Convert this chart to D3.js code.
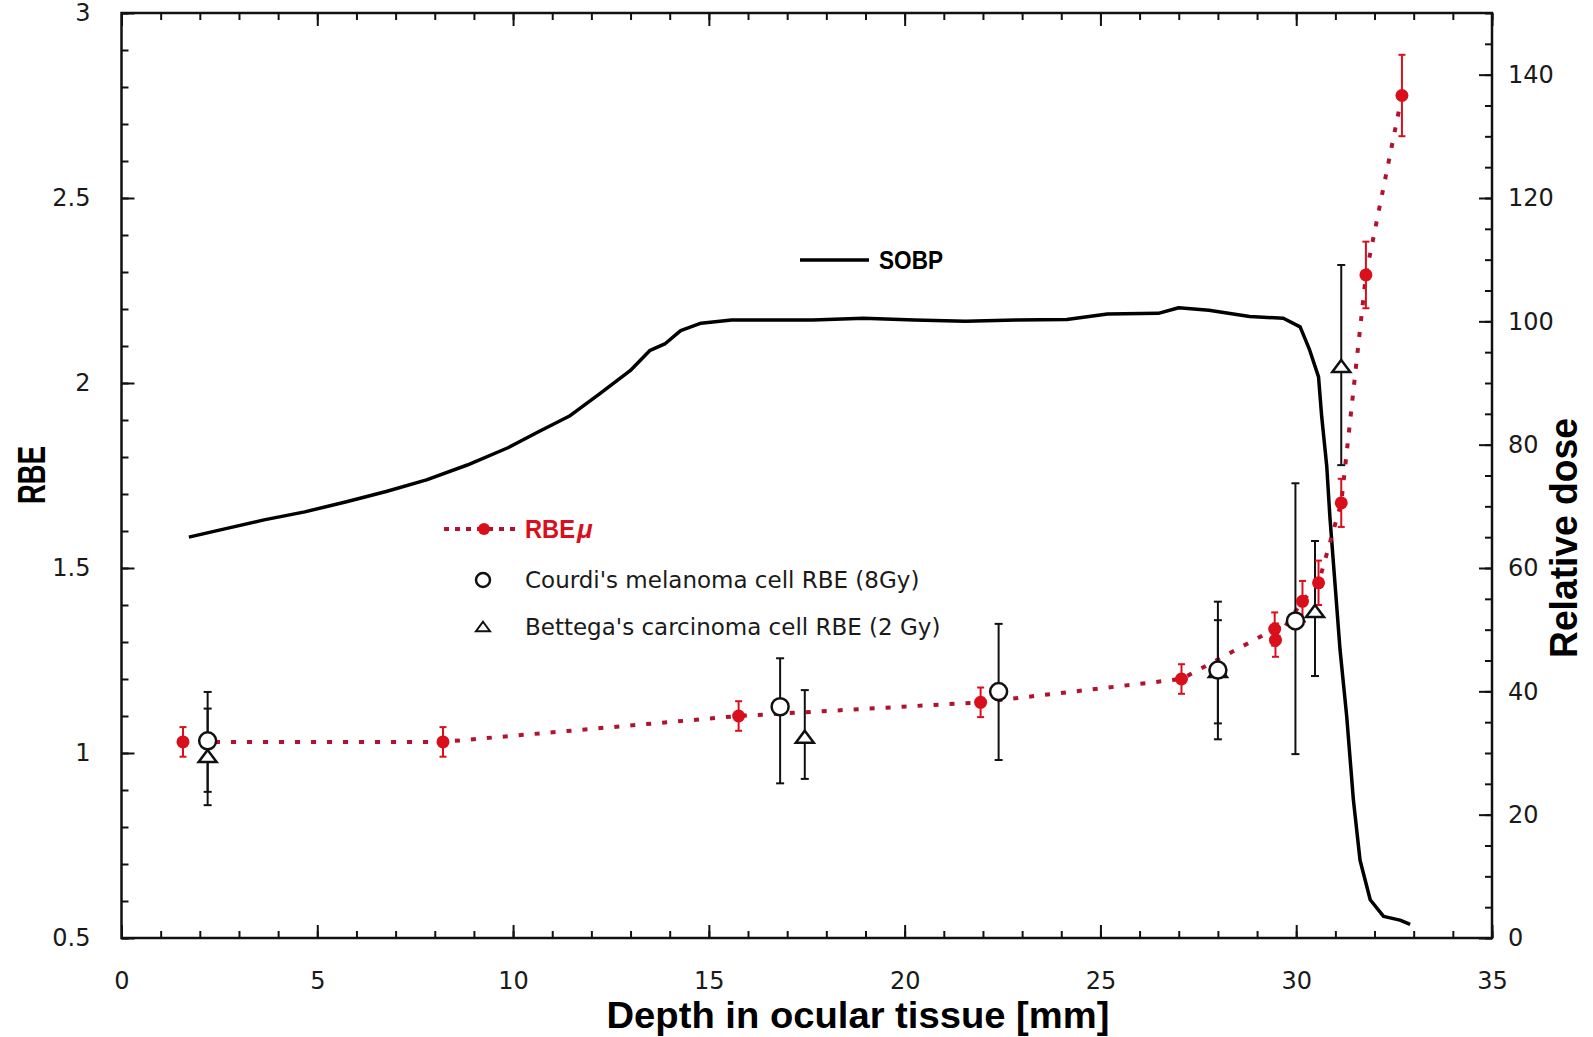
<!DOCTYPE html>
<html><head><meta charset="utf-8">
<script src="https://cdn.jsdelivr.net/npm/d3@7/dist/d3.min.js"></script>
<style>body{margin:0;background:#fff;} svg{display:block;}</style>
</head><body>
<svg id="chart" width="1593" height="1037"></svg>
<script>
// ---- data ----
const sobpDepth = [1.72,2.61,3.64,4.68,5.72,6.76,7.79,8.83,9.87,10.65,11.43,12.2,12.99,13.5,13.89,14.28,14.8,15.58,17.65,18.95,20.25,21.55,22.84,24.14,25.18,26.48,27.0,27.77,28.81,29.67,30.1,30.34,30.57,30.65,30.78,30.86,30.99,31.12,31.29,31.46,31.63,31.89,32.23,32.65,32.91];
const sobpDose  = [65.0,66.3,67.8,69.1,70.7,72.4,74.3,76.7,79.5,82.1,84.6,88.2,92.0,95.3,96.4,98.5,99.7,100.2,100.2,100.5,100.2,100.0,100.2,100.3,101.2,101.3,102.2,101.8,100.8,100.5,99.1,95.4,91.0,84.6,76.5,68.3,57.5,46.7,35.9,22.4,12.6,6.2,3.5,2.9,2.2];

const rbeMuDepth = [1.57,8.21,15.76,21.94,27.07,29.45,29.47,30.16,30.57,31.15,31.78,32.70];
const rbeMuValue = [1.03,1.03,1.10,1.137,1.20,1.335,1.305,1.41,1.46,1.676,2.292,2.777];
const rbeMuErr   = [0.04,0.04,0.04,0.04,0.04,0.045,0.045,0.055,0.06,0.065,0.09,0.11];

const courdiDepth = [2.2,16.82,22.40,28.0,29.98];
const courdiValue = [1.033,1.125,1.166,1.224,1.357];
const courdiHi    = [1.165,1.256,1.349,1.409,1.729];
const courdiLo    = [0.895,0.918,0.981,1.037,0.997];

const bettegaDepth = [2.2,17.45,28.0,30.48,31.15];
const bettegaValue = [0.99,1.042,1.22,1.382,2.044];
const bettegaHi    = [1.12,1.17,1.359,1.573,2.319];
const bettegaLo    = [0.859,0.93,1.08,1.208,1.778];

const xTicks = [0,5,10,15,20,25,30,35];
const yLeftTicks = [0.5,1,1.5,2,2.5,3];
const yRightTicks = [0,20,40,60,80,100,120,140];
const legendLabels = ["SOBP","RBE","μ","Courdi's melanoma cell RBE (8Gy)","Bettega's carcinoma cell RBE (2 Gy)"];
const axisTitles = ["RBE","Relative dose","Depth in ocular tissue [mm]"];

// ---- layout ----
const L = 121.5, R = 1492, T = 13, B = 938;
const svg = d3.select("#chart");
svg.append("rect").attr("width",1593).attr("height",1037).attr("fill","#fff");

const x = d3.scaleLinear().domain([0,35]).range([L,R]);
const yL = d3.scaleLinear().domain([0.5,3]).range([B,T]);
const yR = d3.scaleLinear().domain([0,150]).range([B,T]);

const tickFont = "'DejaVu Sans', sans-serif";
function styleAxis(g){
  g.select(".domain").remove();
  g.selectAll(".tick line").attr("stroke","#111").attr("stroke-width",2);
  g.selectAll("text").attr("font-family",tickFont).attr("font-size",24).attr("fill","#1a1a1a");
}
// minor ticks
svg.append("g").attr("transform",`translate(0,${B})`)
  .call(d3.axisBottom(x).tickValues(d3.range(0,36,1)).tickSize(-7).tickFormat("")).call(styleAxis);
svg.append("g").attr("transform",`translate(0,${T})`)
  .call(d3.axisTop(x).tickValues(d3.range(0,36,1)).tickSize(-7).tickFormat("")).call(styleAxis);
svg.append("g").attr("transform",`translate(${L},0)`)
  .call(d3.axisLeft(yL).tickValues(d3.range(5,31,1).map(v=>v/10)).tickSize(-7).tickFormat("")).call(styleAxis);
svg.append("g").attr("transform",`translate(${R},0)`)
  .call(d3.axisRight(yR).tickValues(d3.range(0,151,5)).tickSize(-7).tickFormat("")).call(styleAxis);
// major ticks + labels
svg.append("g").attr("transform",`translate(0,${B})`)
  .call(d3.axisBottom(x).tickValues(xTicks).tickSize(-13).tickPadding(34).tickFormat(d3.format("d"))).call(styleAxis);
svg.append("g").attr("transform",`translate(0,${T})`)
  .call(d3.axisTop(x).tickValues(xTicks).tickSize(-13).tickFormat("")).call(styleAxis);
svg.append("g").attr("transform",`translate(${L},0)`)
  .call(d3.axisLeft(yL).tickValues(yLeftTicks).tickSize(-13).tickPadding(31).tickFormat(d=>String(d))).call(styleAxis);
svg.append("g").attr("transform",`translate(${R},0)`)
  .call(d3.axisRight(yR).tickValues(yRightTicks).tickSize(-13).tickPadding(16).tickFormat(d3.format("d"))).call(styleAxis);

// frame
svg.append("rect").attr("x",L).attr("y",T).attr("width",R-L).attr("height",B-T)
  .attr("fill","none").attr("stroke","#111").attr("stroke-width",2.5);

// SOBP curve
const sobp = sobpDepth.map((d,i)=>[d,sobpDose[i]]);
svg.append("path").datum(sobp)
  .attr("d",d3.line().x(d=>x(d[0])).y(d=>yR(d[1])))
  .attr("fill","none").attr("stroke","#000").attr("stroke-width",3.5).attr("stroke-linejoin","round");

// RBEmu dotted line
const dashColor = "#b3122e", dotColor = "#d9101c";
const mu = rbeMuDepth.map((d,i)=>({x:d,y:rbeMuValue[i],e:rbeMuErr[i]}));
svg.append("path").datum(mu)
  .attr("d",d3.line().x(d=>x(d.x)).y(d=>yL(d.y)))
  .attr("fill","none").attr("stroke",dashColor).attr("stroke-width",4).attr("stroke-dasharray","5,11");

// black error bars
function errBars(depth,hi,lo,cap){
  const g = svg.append("g").attr("stroke","#111").attr("stroke-width",2);
  depth.forEach((d,i)=>{
    g.append("line").attr("x1",x(d)).attr("x2",x(d)).attr("y1",yL(hi[i])).attr("y2",yL(lo[i]));
    g.append("line").attr("x1",x(d)-cap).attr("x2",x(d)+cap).attr("y1",yL(hi[i])).attr("y2",yL(hi[i]));
    g.append("line").attr("x1",x(d)-cap).attr("x2",x(d)+cap).attr("y1",yL(lo[i])).attr("y2",yL(lo[i]));
  });
}
errBars(courdiDepth,courdiHi,courdiLo,4);
errBars(bettegaDepth,bettegaHi,bettegaLo,4);

// red error bars + points
const rg = svg.append("g").attr("stroke",dotColor).attr("stroke-width",2);
mu.forEach(d=>{
  const cx=x(d.x), y1=yL(d.y+d.e), y2=yL(d.y-d.e);
  rg.append("line").attr("x1",cx).attr("x2",cx).attr("y1",y1).attr("y2",y2);
  rg.append("line").attr("x1",cx-3.5).attr("x2",cx+3.5).attr("y1",y1).attr("y2",y1);
  rg.append("line").attr("x1",cx-3.5).attr("x2",cx+3.5).attr("y1",y2).attr("y2",y2);
});
svg.append("g").selectAll("circle").data(mu).join("circle")
  .attr("cx",d=>x(d.x)).attr("cy",d=>yL(d.y)).attr("r",6.5).attr("fill",dotColor);

// triangles (Bettega)
function triPath(cx,cy,s){ return `M${cx},${cy-s*0.75}L${cx+s},${cy+s*0.6}L${cx-s},${cy+s*0.6}Z`; }
svg.append("g").selectAll("path").data(bettegaDepth).join("path")
  .attr("d",(d,i)=>triPath(x(d),yL(bettegaValue[i]),9))
  .attr("fill","#fff").attr("stroke","#111").attr("stroke-width",2.5);
// circles (Courdi)
svg.append("g").selectAll("circle").data(courdiDepth).join("circle")
  .attr("cx",d=>x(d)).attr("cy",(d,i)=>yL(courdiValue[i])).attr("r",8.5)
  .attr("fill","#fff").attr("stroke","#111").attr("stroke-width",2.5);

// ---- legend ----
const boldFont = "'Liberation Sans', Arial, sans-serif";
svg.append("line").attr("x1",800).attr("x2",869).attr("y1",260).attr("y2",260).attr("stroke","#000").attr("stroke-width",3.5);
svg.append("text").attr("x",879).attr("y",269).attr("font-family",boldFont).attr("font-weight","bold")
  .attr("font-size",26).attr("textLength",64).attr("lengthAdjust","spacingAndGlyphs").text(legendLabels[0]);

svg.append("line").attr("x1",444).attr("x2",516).attr("y1",529).attr("y2",529)
  .attr("stroke",dashColor).attr("stroke-width",4).attr("stroke-dasharray","5,6");
svg.append("circle").attr("cx",484).attr("cy",529).attr("r",6).attr("fill",dotColor);
svg.append("text").attr("x",525).attr("y",538).attr("font-family",boldFont).attr("font-weight","bold")
  .attr("font-size",26).attr("fill",dotColor).attr("textLength",50).attr("lengthAdjust","spacingAndGlyphs")
  .text(legendLabels[1]);
svg.append("text").attr("x",577).attr("y",538).attr("font-family",boldFont).attr("font-weight","bold")
  .attr("font-style","italic").attr("font-size",26).attr("fill",dotColor).text(legendLabels[2]);

svg.append("circle").attr("cx",483).attr("cy",580).attr("r",7).attr("fill","#fff").attr("stroke","#111").attr("stroke-width",2.5);
svg.append("text").attr("x",525).attr("y",588).attr("font-family",tickFont).attr("font-size",23).attr("fill","#1a1a1a").text(legendLabels[3]);
svg.append("path").attr("d",triPath(483,627,7)).attr("fill","#fff").attr("stroke","#111").attr("stroke-width",2);
svg.append("text").attr("x",525).attr("y",635).attr("font-family",tickFont).attr("font-size",23).attr("fill","#1a1a1a").text(legendLabels[4]);

// ---- axis titles ----
svg.append("text").attr("transform","translate(45,475) rotate(-90)").attr("text-anchor","middle")
  .attr("font-family",boldFont).attr("font-weight","bold").attr("font-size",38)
  .attr("textLength",58).attr("lengthAdjust","spacingAndGlyphs").text(axisTitles[0]);
svg.append("text").attr("transform","translate(1577,538) rotate(-90)").attr("text-anchor","middle")
  .attr("font-family",boldFont).attr("font-weight","bold").attr("font-size",38)
  .attr("textLength",240).attr("lengthAdjust","spacingAndGlyphs").text(axisTitles[1]);
svg.append("text").attr("x",858).attr("y",1028).attr("text-anchor","middle")
  .attr("font-family",boldFont).attr("font-weight","bold").attr("font-size",36)
  .attr("textLength",503).attr("lengthAdjust","spacingAndGlyphs").text(axisTitles[2]);
</script>
</body></html>
